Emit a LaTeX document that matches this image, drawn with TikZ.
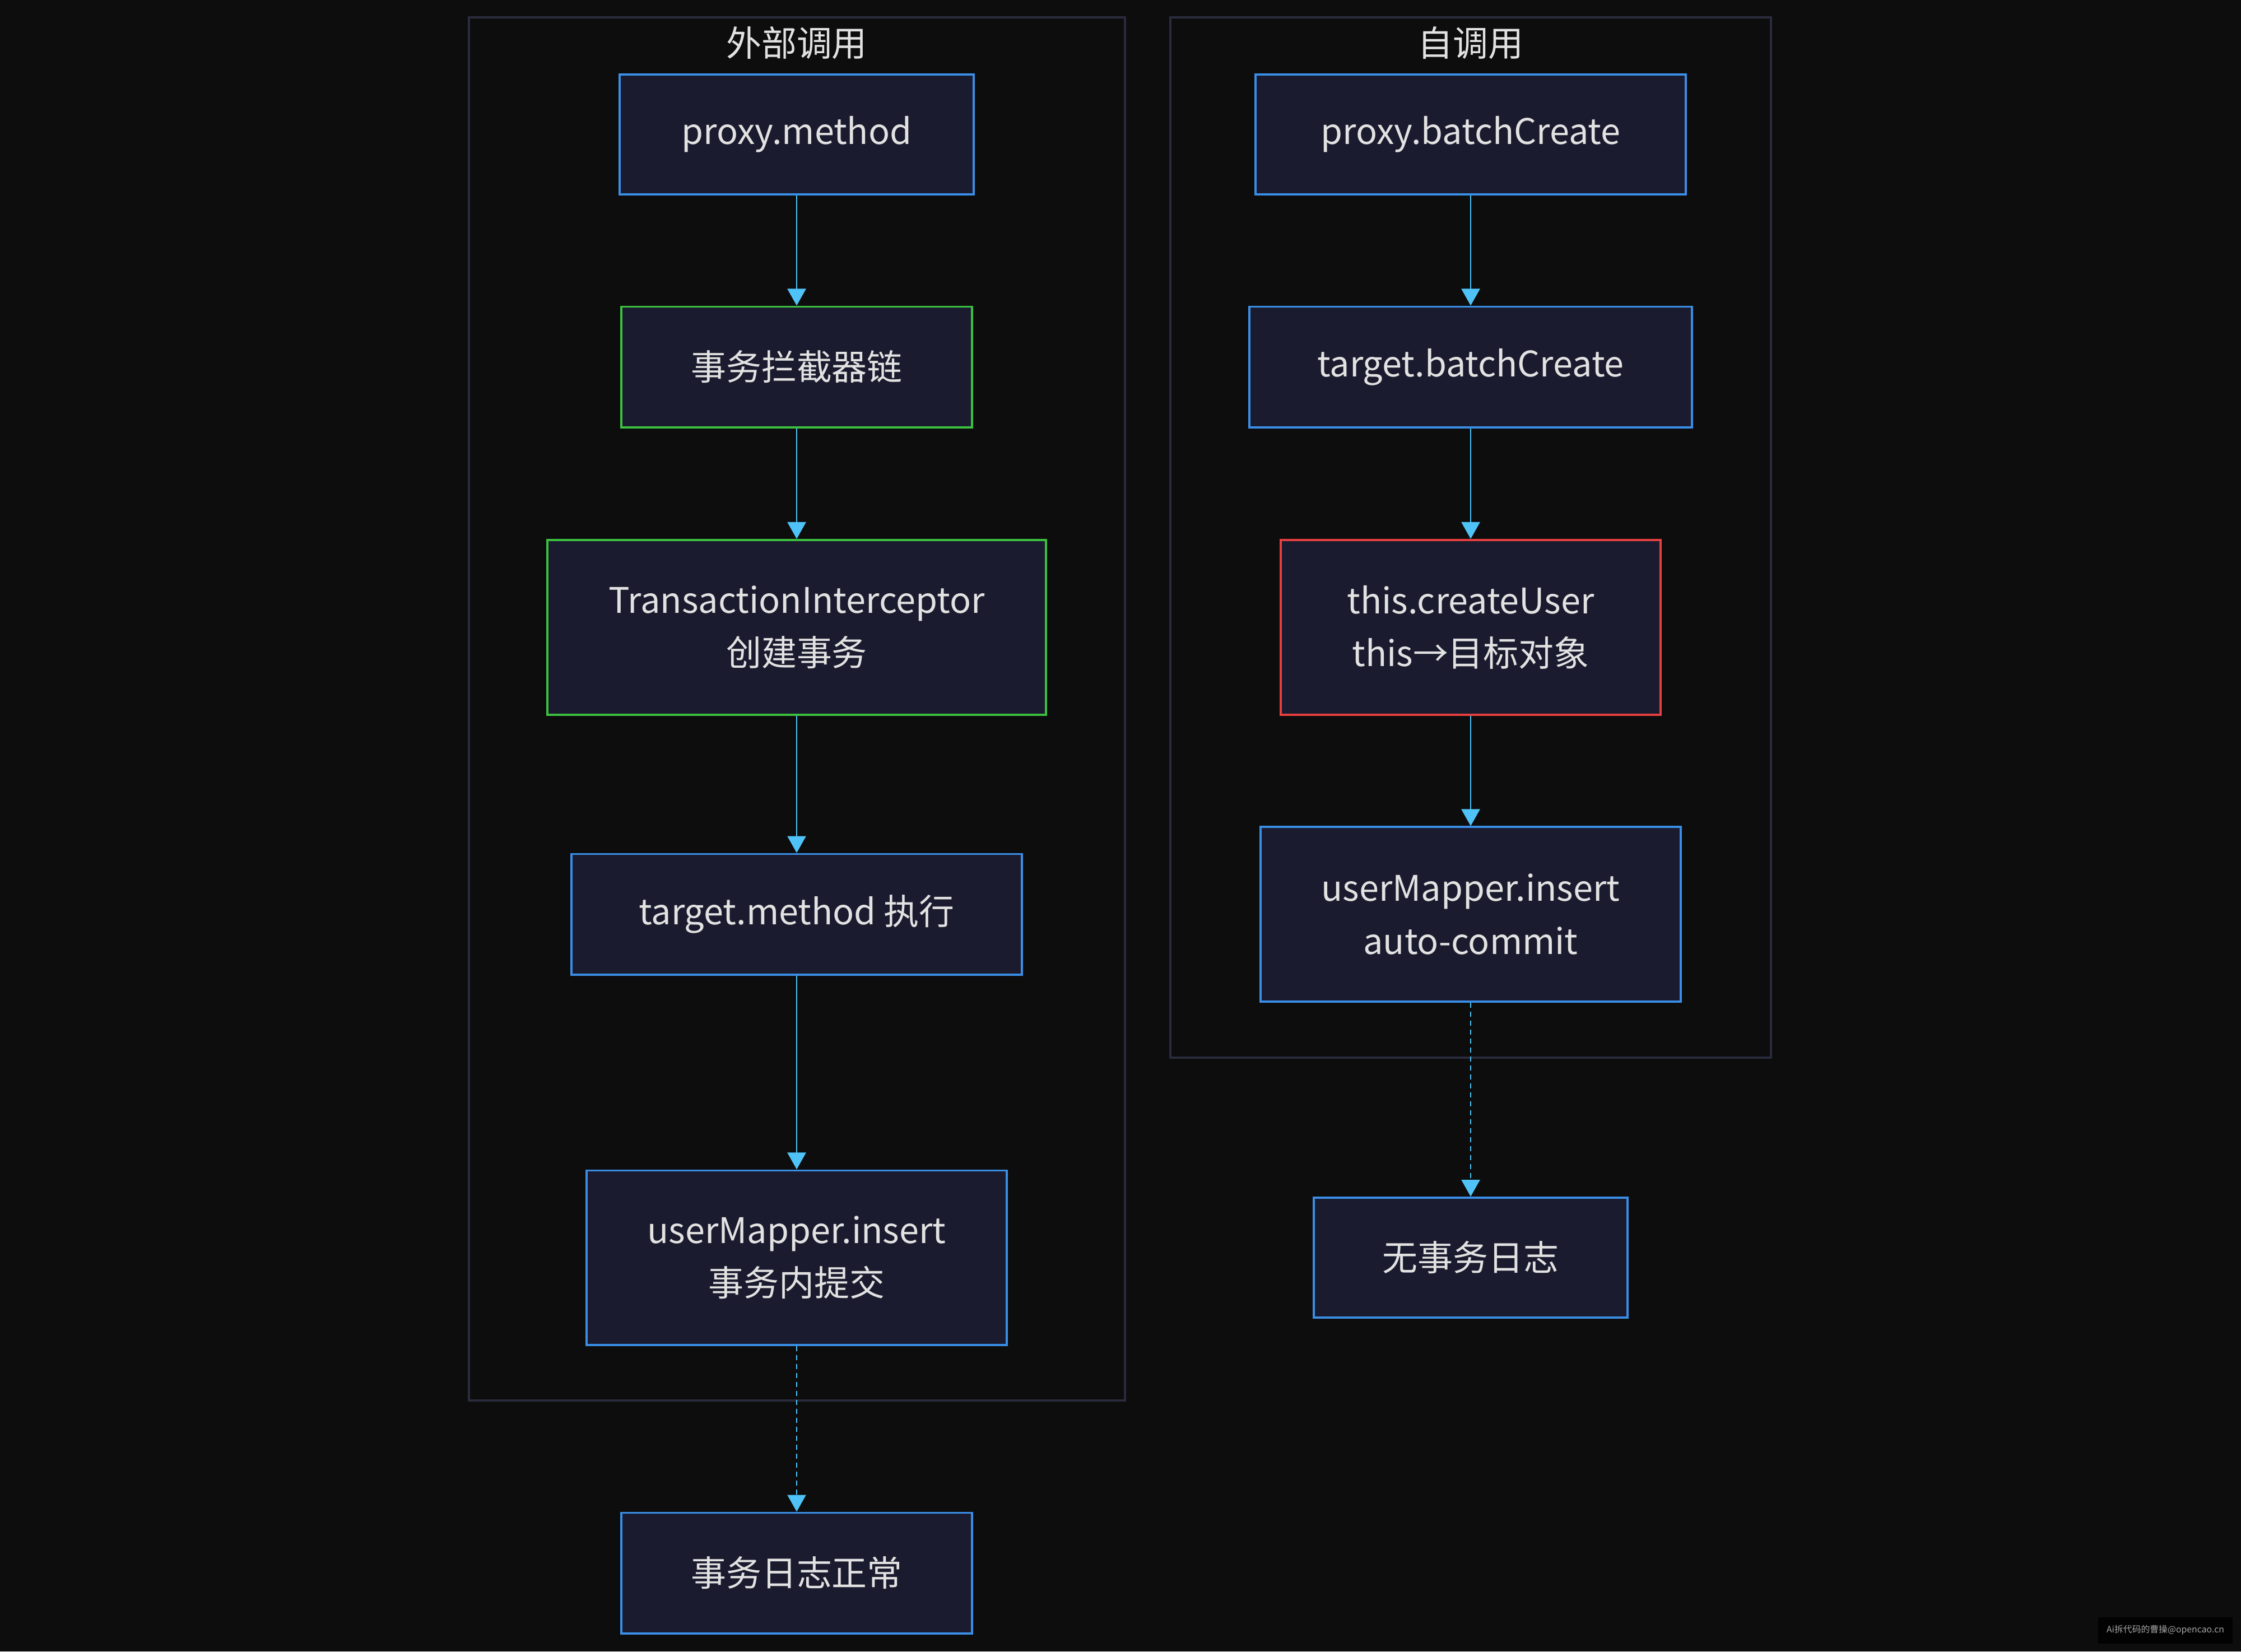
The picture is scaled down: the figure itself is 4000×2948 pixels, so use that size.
\documentclass[tikz,border=0pt]{standalone}
\usepackage{fontspec}
\setmainfont{Noto Sans CJK SC}
\usetikzlibrary{arrows.meta}
\definecolor{bg}{HTML}{0D0D0D}
\definecolor{nodefill}{HTML}{1A1B2E}
\definecolor{blueb}{HTML}{3A8EE6}
\definecolor{greenb}{HTML}{3CC040}
\definecolor{redb}{HTML}{E84040}
\definecolor{arrowc}{HTML}{4FC3F7}
\definecolor{clusterb}{HTML}{2A2B3D}
\definecolor{txt}{HTML}{E2E2E2}
\tikzset{
  box/.style={draw=blueb, fill=nodefill, line width=1.1pt, text=txt, align=center,
    font=\fontsize{17.9}{26.8}\selectfont, inner sep=0pt},
  gbox/.style={box, draw=greenb},
  rbox/.style={box, draw=redb},
  flow/.style={draw=arrowc, line width=0.75pt, -{Triangle[width=0.33cm,length=0.3cm]}},
  dflow/.style={flow, dash pattern=on 0.09cm off 0.07cm},
  cluster/.style={draw=clusterb, line width=0.9pt},
  ctitle/.style={text=txt, font=\fontsize{17.9}{26.8}\selectfont, inner sep=0pt}
}
\begin{document}
\begin{tikzpicture}[x=0.01cm, y=-0.01cm]
\useasboundingbox[fill=bg] (0,0) rectangle (4000,2948);
% clusters
\draw[cluster] (837,31) rectangle (2008,2500);
\draw[cluster] (2089,31) rectangle (3161,1888);
\node[ctitle] (t1) at (1422,77) {外部调用};
\node[ctitle] (t2) at (2625,77) {自调用};
% left column
\node[box, minimum width=6.32cm, minimum height=2.14cm] (L1) at (1422,240) {proxy.method};
\node[gbox, minimum width=6.25cm, minimum height=2.15cm] (L2) at (1422,655) {事务拦截器链};
\node[gbox, minimum width=8.90cm, minimum height=3.12cm] (L3) at (1422,1120) {TransactionInterceptor\\创建事务};
\node[box, minimum width=8.04cm, minimum height=2.15cm] (L4) at (1422,1632) {target.method 执行};
\node[box, minimum width=7.50cm, minimum height=3.11cm] (L5) at (1422,2245) {userMapper.insert\\事务内提交};
\node[box, minimum width=6.25cm, minimum height=2.15cm] (L6) at (1422,2808) {事务日志正常};
% right column
\node[box, minimum width=7.68cm, minimum height=2.14cm] (R1) at (2625,240) {proxy.batchCreate};
\node[box, minimum width=7.90cm, minimum height=2.15cm] (R2) at (2625,655) {target.batchCreate};
\node[rbox, minimum width=6.78cm, minimum height=3.12cm] (R3) at (2625,1120) {this.createUser\\this→目标对象};
\node[box, minimum width=7.50cm, minimum height=3.11cm] (R4) at (2625,1632) {userMapper.insert\\auto-commit};
\node[box, minimum width=5.59cm, minimum height=2.14cm] (R5) at (2625,2245) {无事务日志};
% connectors
\draw[flow] (L1) -- (L2);
\draw[flow] (L2) -- (L3);
\draw[flow] (L3) -- (L4);
\draw[flow] (L4) -- (L5);
\draw[dflow] (L5) -- (L6);
\draw[flow] (R1) -- (R2);
\draw[flow] (R2) -- (R3);
\draw[flow] (R3) -- (R4);
\draw[dflow] (R4) -- (R5);
% watermark
\node[fill=black!85!bg, minimum width=2.39cm, minimum height=0.47cm, inner sep=0pt,
  text=white!65!black, font=\fontsize{4.5}{5}\selectfont] (wm) at (3865,2910) {Ai拆代码的曹操@opencao.cn};
\end{tikzpicture}
\end{document}
